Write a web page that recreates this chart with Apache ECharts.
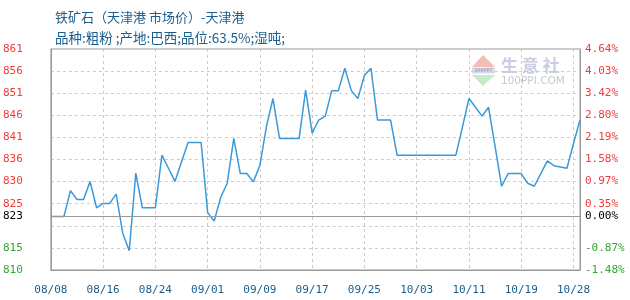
<!DOCTYPE html>
<html><head><meta charset="utf-8">
<script src="https://cdn.jsdelivr.net/npm/echarts@6/dist/echarts.min.js"></script>
<style>html,body{margin:0;padding:0;background:#fff}#c{width:630px;height:300px}</style>
</head><body><div id="c"></div>
<script>
const titleText = '铁矿石（天津港 市场价）-天津港';
const subText = '品种:粗粉 ;产地:巴西;品位:63.5%;湿吨;';
const dates = [
 '08/08','08/09','08/10','08/11','08/12','08/13','08/14','08/15','08/16','08/17','08/18','08/19','08/20','08/21','08/22','08/23','08/24','08/25','08/26','08/27','08/28','08/29','08/30','08/31',
 '09/01','09/02','09/03','09/04','09/05','09/06','09/07','09/08','09/09','09/10','09/11','09/12','09/13','09/14','09/15','09/16','09/17','09/18','09/19','09/20','09/21','09/22','09/23','09/24','09/25','09/26','09/27','09/28','09/29','09/30',
 '10/01','10/02','10/03','10/04','10/05','10/06','10/07','10/08','10/09','10/10','10/11','10/12','10/13','10/14','10/15','10/16','10/17','10/18','10/19','10/20','10/21','10/22','10/23','10/24','10/25','10/26','10/28','10/29'
];
const prices = [
 823,823,823,828.9,826.9,826.9,831,825,826,826,
 828.1,819.2,815.2,832.9,825,825,825,837,834,831,
 835.5,839.9,839.9,839.9,823.9,822,827.4,830.6,840.8,832.8,
 832.8,830.9,834.7,843.5,849.9,840.8,840.8,840.8,840.8,851.8,
 842,845,845.9,851.7,851.7,856.8,851.7,849.9,855.2,856.8,
 845,845,845,837,837,837,837,837,837,837,
 837,837,837,843.4,849.9,847.9,845.9,847.9,839,829.9,
 832.8,832.8,832.8,830.6,829.9,832.8,835.7,834.6,834.3,834,
 839.6,845
];
const basePrice = 823;
const baseLabelLeft = '823';
const baseLabelRight = '0.00%';
const leftTickLabels = ['810','815','','825','830','836','841','846','851','856','861'];
const rightTickLabels = ['-1.48%','-0.87%','','0.35%','0.97%','1.58%','2.19%','2.80%','3.42%','4.03%','4.64%'];
const pctMin = -1.48, pctMax = 4.64;

const yMin = basePrice * (1 + pctMin / 100);
const yMax = basePrice * (1 + pctMax / 100);
const nT = leftTickLabels.length;
const tickVals = leftTickLabels.map((_, k) => Math.min(yMax, yMin + (yMax - yMin) * k / (nT - 1)));
const labelVals = tickVals.concat([basePrice]);

function lookup(v, arr, baseLbl) {
  if (Math.abs(v - basePrice) < 1e-6) return baseLbl;
  let best = 0, bd = Infinity;
  tickVals.forEach((t, k) => { const d = Math.abs(t - v); if (d < bd) { bd = d; best = k; } });
  return arr[best];
}
const RED = '#f23b3b', GREEN = '#33a633', BLACK = '#000', BLUE = '#1b5e8c';
function colorOf(v) {
  if (Math.abs(v - basePrice) < 1e-6) return BLACK;
  return v > basePrice ? RED : GREEN;
}
const FONT = 'DejaVu Sans Mono';

const chart = echarts.init(document.getElementById('c'), null, {renderer: 'canvas'});
chart.setOption({
  animation: false,
  title: [
    {text: titleText, left: 50, top: 6, textStyle: {fontSize: 13, fontWeight: 'normal', color: BLUE, fontFamily: 'Noto Sans CJK SC'}},
    {text: subText, left: 50, top: 26, textStyle: {fontSize: 13.5, fontWeight: 'normal', color: BLUE, fontFamily: 'Noto Sans CJK SC'}}
  ],
  grid: {left: 50, right: 50, top: 49, bottom: 30, show: true, borderColor: '#999', borderWidth: 1, backgroundColor: 'transparent'},
  xAxis: {
    type: 'category', data: dates, boundaryGap: false,
    axisLine: {lineStyle: {color: '#999', width: 1}},
    axisTick: {show: false},
    axisLabel: {interval: 7, color: BLUE, fontSize: 11, fontFamily: FONT, margin: 15},
    splitLine: {show: true, interval: 7, lineStyle: {color: '#ccc', type: [3, 3], width: 1}}
  },
  yAxis: [
    {
      type: 'value', min: yMin, max: yMax, position: 'left',
      axisLine: {show: true, lineStyle: {color: '#999', width: 1}},
      axisTick: {show: false, customValues: tickVals},
      axisLabel: {customValues: labelVals, margin: 28, fontSize: 11, fontFamily: FONT,
        formatter: v => lookup(v, leftTickLabels, baseLabelLeft), color: v => colorOf(v)},
      splitLine: {show: true, lineStyle: {color: '#ccc', type: [3, 3], width: 1}}
    },
    {
      type: 'value', min: yMin, max: yMax, position: 'right',
      axisLine: {show: true, lineStyle: {color: '#999', width: 1}},
      axisTick: {show: false, customValues: tickVals},
      axisLabel: {customValues: labelVals, margin: 5, fontSize: 11, fontFamily: FONT,
        formatter: v => lookup(v, rightTickLabels, baseLabelRight), color: v => colorOf(v)},
      splitLine: {show: false}
    }
  ],
  graphic: [
    {type: 'polygon', silent: true, shape: {points: [[483, 55], [472, 67], [495, 67]]}, style: {fill: '#f6bcb6'}},
    {type: 'rect', silent: true, shape: {x: 472, y: 67.5, width: 23, height: 6}, style: {fill: '#d9dbe6'}},
    {type: 'text', silent: true, x: 483.5, y: 70.5, style: {text: '100PPI', fontSize: 5, fill: '#8a90b0', align: 'center', verticalAlign: 'middle', fontFamily: FONT}},
    {type: 'polygon', silent: true, shape: {points: [[472, 75], [495, 75], [483, 86]]}, style: {fill: '#c6ebc8'}},
    {type: 'text', silent: true, x: 501, y: 66, style: {text: '生 意 社', fontSize: 17, fontWeight: 'bold', fill: '#c9cde0', verticalAlign: 'middle', fontFamily: 'Noto Sans CJK SC'}},
    {type: 'text', silent: true, x: 501, y: 81.5, style: {text: '100PPI.COM', fontSize: 10.5, fill: '#c8c8c8', verticalAlign: 'middle', fontFamily: 'DejaVu Sans'}}
  ],
  series: [
    {
      type: 'line', data: [], yAxisIndex: 0, z: 1,
      markLine: {silent: true, symbol: ['none', 'none'], label: {show: false},
        lineStyle: {color: '#999', type: 'solid', width: 1}, data: [{yAxis: basePrice}]}
    },
    {
      type: 'line', data: prices, yAxisIndex: 0, z: 3, symbol: 'none', showSymbol: false,
      lineStyle: {color: '#3a9ad9', width: 1.5}
    }
  ]
});
</script></body></html>
